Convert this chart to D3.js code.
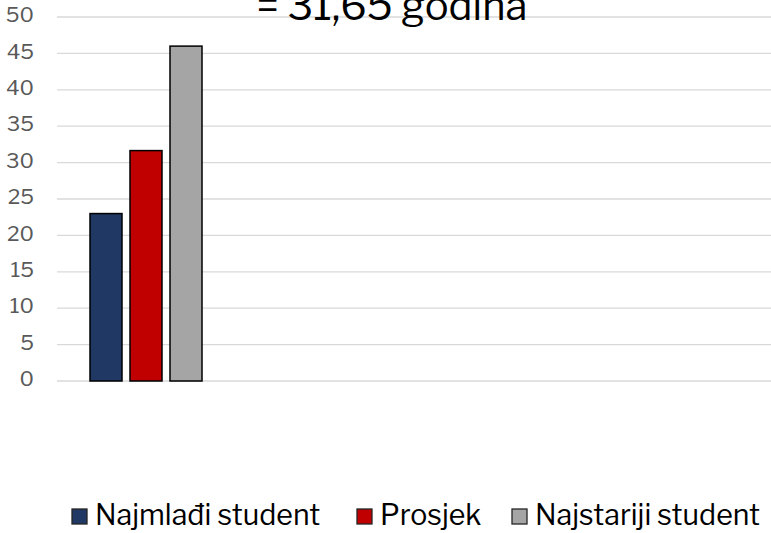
<!DOCTYPE html>
<html><head><meta charset="utf-8">
<script src="https://cdn.jsdelivr.net/npm/d3@7"></script>
<style>body{margin:0;background:#fff}svg{display:block}</style>
</head><body>
<svg id="c" width="771" height="533"></svg>
<script>
const series = ["Najmlađi student", "Prosjek", "Najstariji student"];
const values = [23, 31.65, 46];
const colors = ["#203864", "#c00000", "#a5a5a5"];
const yTicks = [0, 5, 10, 15, 20, 25, 30, 35, 40, 45, 50];
const title = "= 31,65 godina";

const svg = d3.select("#c");
const font = "'Libre Franklin','Franklin Gothic Book','Roboto','Liberation Sans',sans-serif";
const y = d3.scaleLinear().domain([0, 50]).range([381, 17]);
const x = d3.scaleBand().domain(series).range([90, 202]).paddingInner(0.2).paddingOuter(0);

// gridlines
svg.append("g").selectAll("line").data(yTicks).join("line")
  .attr("x1", 57).attr("x2", 771)
  .attr("y1", d => y(d)).attr("y2", d => y(d))
  .attr("stroke", "#d9d9d9").attr("stroke-width", 1.3);

// y axis labels
const ax = d3.axisLeft(y).tickValues(yTicks).tickSize(0).tickPadding(0);
const gAx = svg.append("g").attr("transform", "translate(34,-2)").call(ax);
gAx.select(".domain").remove();
gAx.selectAll("text").attr("font-family", font).attr("font-size", 21).attr("fill", "#595959");

// bars
svg.append("g").selectAll("rect").data(values).join("rect")
  .attr("x", (d, i) => x(series[i]))
  .attr("width", x.bandwidth())
  .attr("y", d => y(d))
  .attr("height", d => y(0) - y(d))
  .attr("fill", (d, i) => colors[i])
  .attr("stroke", "#000").attr("stroke-width", 1.5);

// title (cut off at top in the original)
svg.append("text").attr("x", 392).attr("y", 20).attr("text-anchor", "middle")
  .attr("font-family", font).attr("font-size", 40).attr("fill", "#000").text(title);

// legend
const legX = [72, 357, 512];
const lg = svg.append("g").selectAll("g").data(series).join("g")
  .attr("transform", (d, i) => `translate(${legX[i]},509)`);
lg.append("rect").attr("width", 15).attr("height", 15)
  .attr("fill", (d, i) => colors[i]).attr("stroke", "#262626").attr("stroke-width", 1.3);
lg.append("text").attr("x", 23).attr("y", 16)
  .attr("font-family", font).attr("font-size", 28.5).attr("fill", "#000").text(d => d);
</script>
</body></html>
